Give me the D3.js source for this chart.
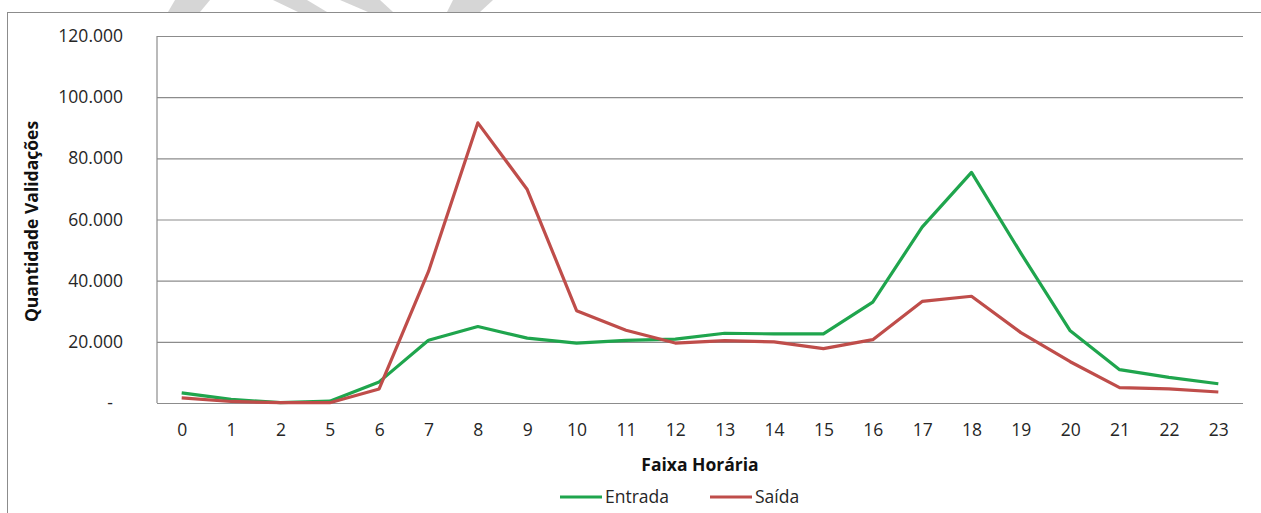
<!DOCTYPE html>
<html>
<head>
<meta charset="utf-8">
<script src="https://cdn.jsdelivr.net/npm/d3@7"></script>
<style>
  html, body { margin: 0; padding: 0; background: #fff; }
  svg { display: block; font-family: "Open Sans", Lato, sans-serif; }
</style>
</head>
<body>
<svg id="chart" width="1261" height="513"></svg>
<script>
// Validations per hour band
const hours = ["0","1","2","5","6","7","8","9","10","11","12","13","14","15","16","17","18","19","20","21","22","23"];
const entrada = [3300,1200,100,600,6900,20500,25000,21200,19600,20500,20900,22800,22600,22600,33000,57500,75400,49000,23600,10900,8400,6300];
const saida   = [1700,500,100,100,4600,43000,91600,69800,30200,23800,19600,20400,20000,17800,20700,33200,34900,23000,13500,5000,4600,3600];
const yTicks = [0,20000,40000,60000,80000,100000,120000];
const seriesNames = ["Entrada","Saída"];
const seriesColors = ["#1fa54d","#bf4d4a"];

const svg = d3.select("#chart");
const W = 1261, H = 513;
const plot = { left: 157, right: 1243, top: 36, bottom: 403 };
const FS = 17.5;

// decorative marks above the frame
const marks = svg.append("g").attr("fill", "#d6d6d6");
[
  [[175,0],[210,0],[200,12],[168,12]],
  [[273,0],[307,0],[327,12],[298,12]],
  [[340,0],[380,0],[393,12],[368,12]],
  [[453,0],[493,0],[480,12],[447,12]]
].forEach(p => marks.append("path").attr("d", d3.line()(p) + "Z"));

// chart frame
svg.append("rect")
  .attr("x", 7.5).attr("y", 12.5)
  .attr("width", W + 10).attr("height", H + 10)
  .attr("fill", "#fff").attr("stroke", "#8c8c8c").attr("stroke-width", 1);

const x = d3.scalePoint().domain(hours).range([plot.left, plot.right]).padding(0.5);
const y = d3.scaleLinear().domain([0, 120000]).range([plot.bottom, plot.top]);

const loc = d3.formatLocale({ decimal: ",", thousands: ".", grouping: [3], currency: ["R$", ""] });
const fmt = loc.format(",.0f");

// y axis with gridlines
const yAxis = svg.append("g")
  .attr("transform", `translate(${plot.left},0)`)
  .call(d3.axisLeft(y).tickValues(yTicks)
    .tickSize(-(plot.right - plot.left))
    .tickPadding(34)
    .tickFormat(d => d === 0 ? "-" : fmt(d)));
yAxis.select(".domain").remove();
yAxis.selectAll(".tick line").attr("stroke", "#8c8c8c").attr("stroke-width", 1.2);
yAxis.selectAll(".tick text")
  .attr("font-size", FS).attr("fill", "#262626")
  .attr("font-family", "'Open Sans', sans-serif");
yAxis.selectAll(".tick").filter(d => d === 0).select("text").attr("dx", -10);

// left axis line
svg.append("line")
  .attr("x1", plot.left).attr("x2", plot.left)
  .attr("y1", plot.top).attr("y2", plot.bottom)
  .attr("stroke", "#8c8c8c").attr("stroke-width", 1.2);

// x axis
const xAxis = svg.append("g")
  .attr("transform", `translate(0,${plot.bottom})`)
  .call(d3.axisBottom(x).tickSize(0).tickPadding(21));
xAxis.select(".domain").remove();
xAxis.selectAll(".tick text")
  .attr("font-size", FS).attr("fill", "#262626")
  .attr("font-family", "'Open Sans', sans-serif");

// series lines
const line = d3.line().x((d, i) => x(hours[i])).y(d => y(d));
[entrada, saida].forEach((vals, k) => {
  svg.append("path")
    .datum(vals)
    .attr("fill", "none")
    .attr("stroke", seriesColors[k])
    .attr("stroke-width", 3.2)
    .attr("stroke-linejoin", "round")
    .attr("d", line);
});

// axis titles
svg.append("text")
  .attr("x", (plot.left + plot.right) / 2).attr("y", 471)
  .attr("text-anchor", "middle")
  .attr("font-size", 17.5).attr("font-weight", "bold").attr("fill", "#111")
  .text("Faixa Horária");

svg.append("text")
  .attr("transform", `translate(38,${(plot.top + plot.bottom) / 2 + 2}) rotate(-90)`)
  .attr("text-anchor", "middle")
  .attr("font-size", 17.5).attr("font-weight", "bold").attr("fill", "#111")
  .text("Quantidade Validações");

// legend
const legendX = [560, 710];
const legend = svg.append("g");
seriesNames.forEach((name, k) => {
  const g = legend.append("g").attr("transform", `translate(${legendX[k]},497)`);
  g.append("line").attr("x1", 0).attr("x2", 42).attr("y1", 0).attr("y2", 0)
    .attr("stroke", seriesColors[k]).attr("stroke-width", 3.2);
  g.append("text").attr("x", 45).attr("y", 6)
    .attr("font-size", FS).attr("fill", "#262626")
    .text(name);
});
</script>
</body>
</html>
